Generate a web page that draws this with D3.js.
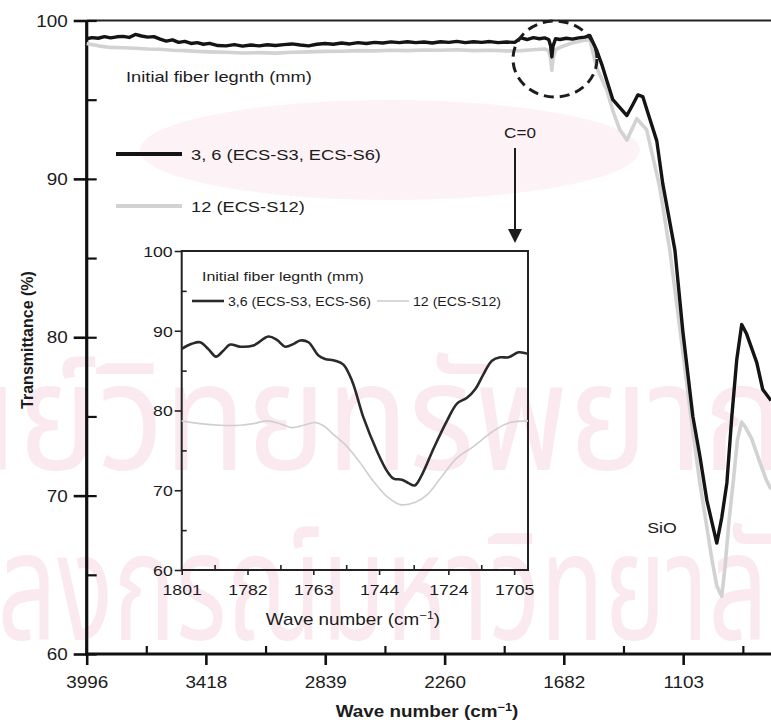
<!DOCTYPE html>
<html>
<head>
<meta charset="utf-8">
<script src="https://cdn.jsdelivr.net/npm/d3@7"></script>
<style>
  body { margin: 0; background: #fff; }
  svg { display: block; }
</style>
</head>
<body>
<svg id="chart" width="771" height="725"></svg>
<script>
"use strict";

// main spectrum, sample 3,6 (wave number, transmittance)
const s36Wave = [3996, 3970, 3940, 3910, 3880, 3850, 3820, 3790, 3760, 3730, 3700, 3670, 3640, 3610, 3580,
    3550, 3520, 3490, 3460, 3430, 3400, 3360, 3320, 3280, 3240, 3200, 3160, 3120, 3080, 3040, 3000, 2960,
    2920, 2880, 2840, 2800, 2760, 2720, 2680, 2640, 2600, 2560, 2520, 2480, 2440, 2400, 2360, 2320, 2280,
    2240, 2200, 2160, 2120, 2080, 2040, 2000, 1960, 1920, 1890, 1860, 1830, 1800, 1775, 1755, 1746, 1740,
    1734, 1722, 1700, 1670, 1640, 1610, 1580, 1556, 1522, 1497, 1473, 1444, 1410, 1376, 1347, 1323, 1299,
    1270, 1231, 1202, 1143, 1104, 1056, 1022, 988, 940, 916, 891, 867, 843, 819, 795, 746, 717, 677];
const s36T = [98.85, 98.92, 98.88, 98.98, 98.9, 98.97, 99.0, 98.93, 99.12, 99.02, 98.95, 98.98, 98.82, 98.7, 98.78,
    98.62, 98.68, 98.55, 98.6, 98.5, 98.56, 98.42, 98.4, 98.48, 98.38, 98.45, 98.4, 98.47, 98.42, 98.48, 98.52, 98.45,
    98.4, 98.5, 98.55, 98.5, 98.58, 98.52, 98.6, 98.55, 98.62, 98.58, 98.65, 98.6, 98.66, 98.6, 98.64, 98.58, 98.66,
    98.62, 98.68, 98.6, 98.66, 98.62, 98.67, 98.6, 98.64, 98.62, 98.9, 98.8, 98.92, 98.85, 98.9, 98.8, 98.4, 97.7,
    98.4, 98.85, 98.8, 98.88, 98.82, 98.9, 98.95, 99.05, 98.1, 97.2, 96.2, 95.0, 94.5, 94.0, 94.7, 95.3, 95.2,
    94.0, 92.4, 89.7, 85.5, 80.3, 75.0, 72.5, 69.7, 67.0, 68.6, 70.8, 75.0, 78.6, 80.8, 80.2, 78.4, 76.7, 76.0];

// main spectrum, sample 12
const s12Wave = [3996, 3940, 3880, 3820, 3760, 3700, 3640, 3580, 3520, 3460, 3400, 3320, 3240, 3160, 3080,
    3000, 2920, 2840, 2760, 2680, 2600, 2520, 2440, 2360, 2280, 2200, 2120, 2040, 1960, 1890, 1830, 1775,
    1755, 1746, 1740, 1734, 1722, 1700, 1650, 1600, 1556, 1522, 1473, 1444, 1410, 1376, 1328, 1280, 1217,
    1168, 1143, 1104, 1079, 1056, 1022, 988, 964, 940, 916, 900, 880, 860, 840, 820, 800, 771, 731, 700, 677];
const s12T = [98.55, 98.4, 98.3, 98.28, 98.25, 98.2, 98.18, 98.12, 98.1, 98.05, 98.02, 98.0, 97.95, 97.97, 97.94,
    98.0, 98.02, 98.05, 98.06, 98.1, 98.08, 98.12, 98.1, 98.14, 98.12, 98.15, 98.1, 98.12, 98.08, 98.1, 98.15, 98.2,
    98.1, 97.6, 96.85, 97.6, 98.15, 98.3, 98.55, 98.7, 98.8, 97.0, 95.6, 94.3, 93.1, 92.45, 93.8, 93.1, 89.5,
    85.5, 83.0, 79.0, 76.4, 74.0, 70.8, 68.0, 66.0, 64.3, 63.65, 65.5, 68.5, 70.9, 73.5, 74.65, 74.3, 73.6, 72.1, 71.0, 70.4];

// inset (C=O region)
const i36Wave = [1801, 1798.1, 1795.7, 1793.3, 1791.1, 1789, 1787, 1784.1, 1780.3, 1776, 1773.5, 1771.1, 1768.7,
    1766.8, 1764.4, 1761.5, 1759.6, 1756.7, 1754.3, 1751.8, 1748.5, 1744.6, 1741.7, 1739.8, 1737.4, 1735.5,
    1733.7, 1731.6, 1728.2, 1724.4, 1721.5, 1718.6, 1716.2, 1713.8, 1711.4, 1709, 1706.6, 1703.7, 1701];
const i36T = [87.73, 88.36, 88.56, 87.7, 86.76, 87.5, 88.27, 88.0, 88.15, 89.28, 88.86, 88.0, 88.36,
    88.78, 88.56, 86.9, 86.47, 86.25, 85.75, 83.7, 79.1, 74.9, 72.4, 71.46, 71.33, 70.9,
    70.6, 71.97, 75.3, 78.7, 80.87, 81.6, 82.7, 84.6, 86.25, 86.67, 86.67, 87.3, 87.1];
const i12Wave = [1801, 1795.7, 1789.9, 1784.1, 1780.3, 1776.4, 1772.6, 1769.2, 1765.8, 1762.5, 1759.9, 1757.2,
    1753.3, 1749.4, 1745.6, 1741.7, 1737.9, 1733.5, 1730.1, 1726.3, 1721.5, 1716.7, 1711.1, 1706.2, 1701];
const i12T = [78.7, 78.35, 78.15, 78.15, 78.35, 78.7, 78.35, 77.85, 78.15, 78.5, 78.06, 77.0,
    75.5, 73.4, 71.1, 69.2, 68.2, 68.5, 69.45, 71.5, 74.05, 75.5, 77.4, 78.5, 78.7];

// ticks
const xMajor = [3996, 3418, 2839, 2260, 1682, 1103];
const xMinor = [3707, 3128.5, 2549.5, 1971, 1392.5, 813.5];
const yMajor = [60, 70, 80, 90, 100];
const yMinor = [65, 75, 85, 95];
const ixMajor = [1801, 1782, 1763, 1744, 1724, 1705];
const ixMinor = [1791.5, 1772.5, 1753.5, 1734, 1714.5];

const legendMain = ["3, 6 (ECS-S3, ECS-S6)", "12 (ECS-S12)"];
const legendInset = ["3,6 (ECS-S3, ECS-S6)", "12 (ECS-S12)"];

const SX = 1.18;   // the scanned figure is a bit wider than tall
const FONT = "'Liberation Sans', Arial, Helvetica, sans-serif";
const INK = "#1c1c1c";
const fmt = d3.format("d");

const svg = d3.select("#chart");

function zip(w, t) {
    return w.map((d, i) => [d, t[i]]);
}

function label(parent, x, y, s, size, anchor, weight) {
    return parent.append("text")
        .attr("transform", `translate(${x},${y}) scale(${SX},1)`)
        .attr("text-anchor", anchor || "start")
        .style("font-family", FONT)
        .style("font-size", size + "px")
        .style("font-weight", weight || "normal")
        .attr("fill", INK)
        .text(s);
}

function waveTitle(parent, x, y, size, weight) {
    const t = label(parent, x, y, null, size, "middle", weight);
    t.append("tspan").text("Wave number (cm");
    t.append("tspan").attr("dy", -size * 0.4).style("font-size", (size * 0.68) + "px").text("\u22121");
    t.append("tspan").attr("dy", size * 0.4).text(")");
    return t;
}

// faint watermark of the scanned thesis page
const wm = svg.append("g").attr("class", "watermark");
wm.append("ellipse")
    .attr("cx", 390).attr("cy", 150).attr("rx", 250).attr("ry", 50)
    .attr("fill", "#fdf3f6");
wm.append("text")
    .attr("x", -150).attr("y", 470)
    .attr("textLength", 1000).attr("lengthAdjust", "spacingAndGlyphs")
    .style("font-family", "'Noto Sans Thai', 'DejaVu Sans', sans-serif")
    .style("font-size", "150px")
    .attr("fill", "#faeaf0")
    .text("ศูนย์วิทยทรัพยากร");
wm.append("text")
    .attr("x", -170).attr("y", 640)
    .attr("textLength", 1000).attr("lengthAdjust", "spacingAndGlyphs")
    .style("font-family", "'Noto Sans Thai', 'DejaVu Sans', sans-serif")
    .style("font-size", "150px")
    .attr("fill", "#faeaf0")
    .text("จุฬาลงกรณ์มหาวิทยาลัย");

// ---------- main plot ----------
const x = d3.scaleLinear().domain([3996, 677]).range([86.7, 771]);
const y = d3.scaleLinear().domain([60, 100]).range([654, 20.5]);

const main = svg.append("g");

// frame
main.append("line")
    .attr("x1", x(3996)).attr("x2", 771).attr("y1", y(100)).attr("y2", y(100))
    .attr("stroke", "#222").attr("stroke-width", 2.2);
main.append("line")
    .attr("x1", x(3996)).attr("x2", x(3996)).attr("y1", y(100)).attr("y2", y(60) + 1.5)
    .attr("stroke", "#111").attr("stroke-width", 3.2);
main.append("line")
    .attr("x1", x(3996) - 1.5).attr("x2", 771).attr("y1", y(60)).attr("y2", y(60))
    .attr("stroke", "#111").attr("stroke-width", 3.2);

// y axis: labelled ticks crossing the axis, minor ticks inside
const yAxisOut = main.append("g")
    .attr("transform", `translate(${x(3996)},0)`)
    .call(d3.axisLeft(y).tickValues(yMajor).tickSize(13).tickSizeOuter(0).tickPadding(0).tickFormat(fmt));
const yAxisIn = main.append("g")
    .attr("transform", `translate(${x(3996)},0)`)
    .call(d3.axisRight(y).tickValues(yMajor.concat(yMinor)).tickSize(10).tickSizeOuter(0).tickFormat(""));

// x axis: labelled ticks outside, minor ticks inside
const xAxisOut = main.append("g")
    .attr("transform", `translate(0,${y(60)})`)
    .call(d3.axisBottom(x).tickValues(xMajor).tickSize(11).tickSizeOuter(0).tickPadding(0).tickFormat(fmt));
const xAxisIn = main.append("g")
    .attr("transform", `translate(0,${y(60)})`)
    .call(d3.axisTop(x).tickValues(xMinor).tickSize(8).tickSizeOuter(0).tickFormat(""));

[yAxisOut, yAxisIn, xAxisOut, xAxisIn].forEach(g => {
    g.select(".domain").remove();
    g.selectAll(".tick line").attr("stroke", "#111").attr("stroke-width", 2.6);
});
yAxisOut.selectAll(".tick text")
    .attr("x", -19 / SX).attr("dy", "0.35em")
    .attr("transform", `scale(${SX},1)`)
    .style("font-family", FONT).style("font-size", "16px").attr("fill", INK);
xAxisOut.selectAll(".tick text")
    .attr("y", 0).attr("dy", 34)
    .attr("transform", `scale(${SX},1)`)
    .style("font-family", FONT).style("font-size", "16px").attr("fill", INK);
yAxisIn.selectAll(".tick line").attr("stroke-width", 2.2);
xAxisIn.selectAll(".tick line").attr("stroke-width", 2.2);

// spectra
const mainLine = d3.line().x(d => x(d[0])).y(d => y(d[1]));
main.append("path")
    .datum(zip(s12Wave, s12T))
    .attr("d", mainLine)
    .attr("fill", "none").attr("stroke", "#d2d2d2").attr("stroke-width", 3.6)
    .attr("stroke-linejoin", "round");
main.append("path")
    .datum(zip(s36Wave, s36T))
    .attr("d", mainLine)
    .attr("fill", "none").attr("stroke", "#141414").attr("stroke-width", 3.4)
    .attr("stroke-linejoin", "round");

// titles
waveTitle(main, 427, 717, 16, "bold");
main.append("text")
    .attr("transform", "translate(33,340) rotate(-90)")
    .attr("text-anchor", "middle")
    .style("font-family", FONT).style("font-size", "16px").style("font-weight", "bold")
    .attr("fill", INK)
    .text("Transmittance (%)");

// legend
label(main, 126, 82, "Initial fiber legnth (mm)", 15.5);
const legColors = ["#141414", "#d2d2d2"];
legendMain.forEach((name, i) => {
    const ly = 154 + i * 52;
    main.append("line")
        .attr("x1", 116).attr("x2", 182).attr("y1", ly).attr("y2", ly)
        .attr("stroke", legColors[i]).attr("stroke-width", 4);
    label(main, 191, ly + 6, name, 15.5);
});

// annotations
main.append("ellipse")
    .attr("cx", 555).attr("cy", 59).attr("rx", 42).attr("ry", 38)
    .attr("fill", "none").attr("stroke", "#1c1c1c").attr("stroke-width", 3)
    .attr("stroke-dasharray", "10,6");
label(main, 520, 138, "C=0", 14.5, "middle");
main.append("line")
    .attr("x1", 515).attr("x2", 515).attr("y1", 148).attr("y2", 232)
    .attr("stroke", "#1c1c1c").attr("stroke-width", 2);
main.append("path")
    .attr("d", "M508,229 L522,229 L515,243 Z")
    .attr("fill", "#1c1c1c");
label(main, 662, 533, "SiO", 15, "middle");

// ---------- inset ----------
const ix = d3.scaleLinear().domain([1801, 1701]).range([181.7, 528]);
const iy = d3.scaleLinear().domain([60, 100]).range([570, 251]);
const inset = svg.append("g");

inset.append("rect")
    .attr("x", ix(1801)).attr("y", iy(100))
    .attr("width", ix(1701) - ix(1801)).attr("height", iy(60) - iy(100))
    .attr("fill", "none").attr("stroke", "#222").attr("stroke-width", 2);

const iyOut = inset.append("g")
    .attr("transform", `translate(${ix(1801)},0)`)
    .call(d3.axisLeft(iy).tickValues(yMajor).tickSize(7).tickSizeOuter(0).tickPadding(0).tickFormat(fmt));
const iyIn = inset.append("g")
    .attr("transform", `translate(${ix(1801)},0)`)
    .call(d3.axisRight(iy).tickValues(yMinor).tickSize(5).tickSizeOuter(0).tickFormat(""));
const ixOut = inset.append("g")
    .attr("transform", `translate(0,${iy(60)})`)
    .call(d3.axisBottom(ix).tickValues(ixMajor).tickSize(5).tickSizeOuter(0).tickPadding(0).tickFormat(fmt));
const ixIn = inset.append("g")
    .attr("transform", `translate(0,${iy(60)})`)
    .call(d3.axisTop(ix).tickValues(ixMinor).tickSize(5).tickSizeOuter(0).tickFormat(""));

[iyOut, iyIn, ixOut, ixIn].forEach(g => {
    g.select(".domain").remove();
    g.selectAll(".tick line").attr("stroke", "#222").attr("stroke-width", 1.6);
});
iyOut.selectAll(".tick text")
    .attr("x", -9 / SX).attr("dy", "0.35em")
    .attr("transform", `scale(${SX},1)`)
    .style("font-family", FONT).style("font-size", "15px").attr("fill", INK);
ixOut.selectAll(".tick text")
    .attr("y", 0).attr("dy", 25)
    .attr("transform", `scale(${SX},1)`)
    .style("font-family", FONT).style("font-size", "15px").attr("fill", INK);

const insetLine = d3.line().x(d => ix(d[0])).y(d => iy(d[1])).curve(d3.curveCatmullRom);
inset.append("path")
    .datum(zip(i12Wave, i12T))
    .attr("d", insetLine)
    .attr("fill", "none").attr("stroke", "#cfcfcf").attr("stroke-width", 1.6);
inset.append("path")
    .datum(zip(i36Wave, i36T))
    .attr("d", insetLine)
    .attr("fill", "none").attr("stroke", "#2a2a2a").attr("stroke-width", 2.6);

label(inset, 202, 281, "Initial fiber legnth (mm)", 13.5);
const insetColors = ["#2a2a2a", "#cfcfcf"];
const insetWidths = [2.6, 1.6];
const insetLegX = [[192, 224, 228], [377, 409, 413]];
legendInset.forEach((name, i) => {
    const p = insetLegX[i];
    inset.append("line")
        .attr("x1", p[0]).attr("x2", p[1]).attr("y1", 301).attr("y2", 301)
        .attr("stroke", insetColors[i]).attr("stroke-width", insetWidths[i]);
    label(inset, p[2], 305.5, name, 12);
});

waveTitle(inset, 353, 625, 16, "normal");
</script>
</body>
</html>
